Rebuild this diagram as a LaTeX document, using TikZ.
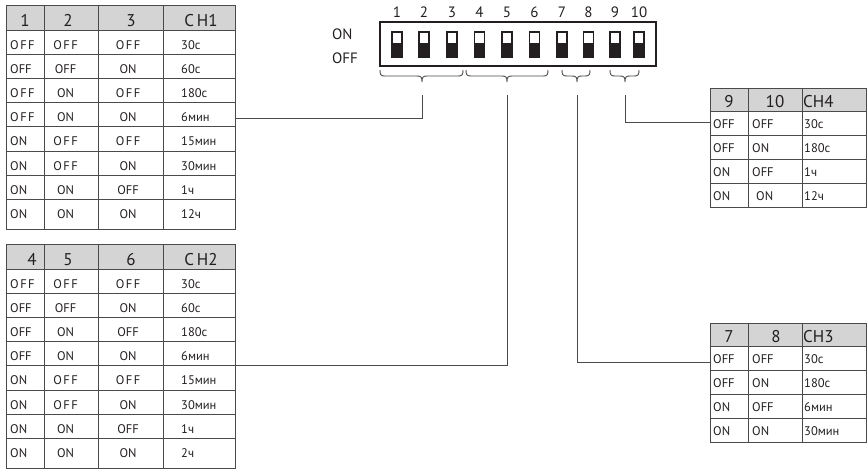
\documentclass[tikz,border=0pt]{standalone}
\usepackage{fontspec}
\setmainfont{PT Sans}
\newfontfamily\spcfont[LetterSpace=12]{PT Sans}
\newcommand\spc[1]{{\spcfont #1}}
\definecolor{txt}{HTML}{231F20}
\definecolor{linec}{HTML}{4A4A4A}
\definecolor{hdrc}{HTML}{D4D4D4}
\newcommand\mybrace[3]{%
  \draw[brc] (#1,70) .. controls (#1,75) and (#1+1,76) .. (#1+5,76) -- (#3-5,76)
    .. controls (#3-1,76) and (#3,77) .. (#3,82)
    .. controls (#3,77) and (#3+1,76) .. (#3+5,76) -- (#2-5,76)
    .. controls (#2-1,76) and (#2,75) .. (#2,70);}
\begin{document}
\begin{tikzpicture}[x=1pt,y=-1pt,
  grid/.style={draw=linec, line width=0.9pt},
  hdr/.style={fill=hdrc},
  hd/.style={font=\fontsize{17}{17}\selectfont, anchor=base, text=txt, inner sep=0},
  hdw/.style={hd, anchor=base west},
  bd/.style={font=\fontsize{12.5}{13}\selectfont, anchor=base west, text=txt, inner sep=0},
  bdc/.style={bd, anchor=base},
  lbl/.style={font=\fontsize{15}{15}\selectfont, anchor=base west, text=txt, inner sep=0},
  num/.style={font=\fontsize{15}{15}\selectfont, anchor=base, text=txt, inner sep=0},
  brc/.style={draw=linec, line width=0.9pt},
  conn/.style={draw=linec, line width=0.9pt}]
\useasboundingbox (0,0) rectangle (867,472);

% ---------- DIP switch ----------
\draw[line width=1.4pt, draw=txt] (380,22) rectangle (656,66);
\foreach \x [count=\i] in {397,424,452,479.5,507,534.5,562,588.5,615,639}{
  \fill[txt] (\x-5,43) rectangle (\x+5,57);
  \draw[line width=1.1pt, draw=txt] (\x-5,32) rectangle (\x+5,57);
  \node[num] (n\i) at (\x,17) {\i};
}
\node[lbl] (lon) at (332,39) {ON};
\node[lbl] (loff) at (332,63.5) {OFF};
\mybrace{380}{463}{422}
\mybrace{466}{548}{507}
\mybrace{562}{590}{577}
\mybrace{610}{639}{625}

% ---------- CH1 table ----------
\fill[hdr] (6,5) rectangle (235,30);
\foreach \y in {30,54.2,78.4,102.6,126.8,151,175.2,199.4}{\draw[grid] (6,\y) -- (235,\y);}
\foreach \x in {44,98,163}{\draw[grid] (\x,5) -- (\x,229);}
\draw[grid] (6,5) rectangle (235,229);
\node[hd] (h1a) at (25,26) {1};
\node[hd] (h1b) at (68,26) {2};
\node[hd] (h1c) at (131,26) {3};
\node[hd] (h1d) at (201,26) {C\,H1};
\foreach \a/\b/\c/\d [count=\i from 0] in {
  {\spc{OFF}}/{\spc{OFF}}/{\spc{OFF}}/30с,
  OFF/OFF/ON/60с,
  {\spc{OFF}}/ON/{\spc{OFF}}/180с,
  {\spc{OFF}}/ON/ON/6мин,
  ON/{\spc{OFF}}/{\spc{OFF}}/15мин,
  ON/{\spc{OFF}}/ON/30мин,
  ON/ON/OFF/1ч,
  ON/ON/ON/12ч}{
  \pgfmathsetmacro\yb{30+24.2*\i+19}
  \node[bd] (p1a\i) at (10,\yb) {\a};
  \node[bdc] (p1b\i) at (65.5,\yb) {\b};
  \node[bdc] (p1c\i) at (128,\yb) {\c};
  \node[bd] (p1d\i) at (181,\yb) {\d};
}

% ---------- CH2 table ----------
\begin{scope}[yshift=-239pt]
\fill[hdr] (6,5) rectangle (235,30);
\foreach \y in {30,54.2,78.4,102.6,126.8,151,175.2,199.4}{\draw[grid] (6,\y) -- (235,\y);}
\foreach \x in {44,98,163}{\draw[grid] (\x,5) -- (\x,229);}
\draw[grid] (6,5) rectangle (235,229);
\node[hd] (h2a) at (32,26) {4};
\node[hd] (h2b) at (68,26) {5};
\node[hd] (h2c) at (131,26) {6};
\node[hd] (h2d) at (201,26) {C\,H2};
\foreach \a/\b/\c/\d [count=\i from 0] in {
  {\spc{OFF}}/{\spc{OFF}}/{\spc{OFF}}/30с,
  OFF/OFF/ON/60с,
  OFF/ON/OFF/180с,
  OFF/ON/ON/6мин,
  ON/{\spc{OFF}}/{\spc{OFF}}/15мин,
  ON/{\spc{OFF}}/ON/30мин,
  ON/ON/OFF/1ч,
  ON/ON/ON/2ч}{
  \pgfmathsetmacro\yb{30+24.2*\i+19}
  \node[bd] (p2a\i) at (10,\yb) {\a};
  \node[bdc] (p2b\i) at (65.5,\yb) {\b};
  \node[bdc] (p2c\i) at (128,\yb) {\c};
  \node[bd] (p2d\i) at (181,\yb) {\d};
}
\end{scope}

% ---------- CH4 table ----------
\fill[hdr] (710,88) rectangle (866,111.8);
\foreach \y in {111.8,135.6,159.4,183.2}{\draw[grid] (710,\y) -- (866,\y);}
\foreach \x in {748,802}{\draw[grid] (\x,88) -- (\x,207);}
\draw[grid] (710,88) rectangle (866,207);
\node[hd] (h4a) at (729,107) {9};
\node[hd] (h4b) at (775,107) {10};
\node[hdw] (h4c) at (803,107) {CH4};
\foreach \a/\b/\c/\bx [count=\i from 0] in {OFF/OFF/30с/752, OFF/ON/180с/752, ON/OFF/1ч/752, ON/ON/12ч/756}{
  \pgfmathsetmacro\yb{111.8+23.8*\i+17}
  \node[bd] (p4a\i) at (713,\yb) {\a};
  \node[bd] (p4b\i) at (\bx,\yb) {\b};
  \node[bd] (p4c\i) at (804,\yb) {\c};
}

% ---------- CH3 table ----------
\fill[hdr] (710,323) rectangle (866,346.8);
\foreach \y in {346.8,370.6,394.4,418.2}{\draw[grid] (710,\y) -- (866,\y);}
\foreach \x in {748,802}{\draw[grid] (\x,323) -- (\x,442);}
\draw[grid] (710,323) rectangle (866,442);
\node[hd] (h3a) at (729,342) {7};
\node[hd] (h3b) at (776,342) {8};
\node[hdw] (h3c) at (803,342) {CH3};
\foreach \a/\b/\c [count=\i from 0] in {OFF/OFF/30с, OFF/ON/180с, ON/OFF/6мин, ON/ON/30мин}{
  \pgfmathsetmacro\yb{346.8+23.8*\i+17}
  \node[bd] (p3a\i) at (713,\yb) {\a};
  \node[bd] (p3b\i) at (752,\yb) {\b};
  \node[bd] (p3c\i) at (804,\yb) {\c};
}

% ---------- connectors ----------
\coordinate (b1) at (422,95);
\coordinate (b2) at (507,95);
\coordinate (b3) at (577,95);
\coordinate (b4) at (625,95);
\coordinate (c1) at (235,118);
\coordinate (c2) at (235,365);
\coordinate (c3) at (710,362);
\coordinate (c4) at (710,122);
\draw[conn] (b1) |- (c1);
\draw[conn] (b2) |- (c2);
\draw[conn] (b3) |- (c3);
\draw[conn] (b4) |- (c4);
\end{tikzpicture}
\end{document}
